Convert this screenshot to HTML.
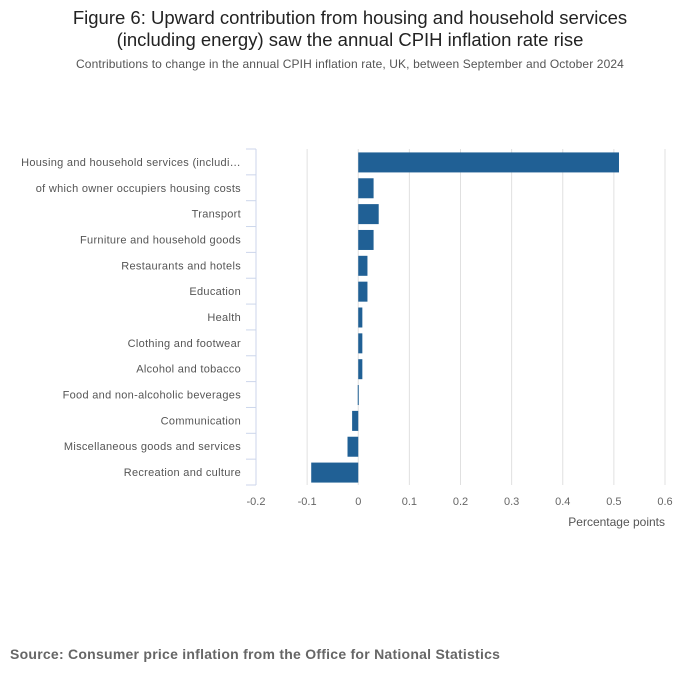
<!DOCTYPE html>
<html><head><meta charset="utf-8"><style>
body{margin:0;background:#fff;font-family:"Liberation Sans",sans-serif;}
#wrap{position:relative;width:700px;height:682px;overflow:hidden;}
.title{position:absolute;left:0;width:700px;top:7px;text-align:center;font-size:18.5px;color:#222;line-height:22px;}
.sub{position:absolute;left:0;width:700px;top:57px;text-align:center;font-size:12px;color:#555;letter-spacing:0.12px;}
.src{position:absolute;left:10px;top:646px;font-size:14px;font-weight:bold;color:#666;letter-spacing:0.25px;}
</style></head><body>
<div id="wrap">
<div class="title">Figure 6: Upward contribution from housing and household services<br>(including energy) saw the annual CPIH inflation rate rise</div>
<div class="sub">Contributions to change in the annual CPIH inflation rate, UK, between September and October 2024</div>
<svg id="chart" width="700" height="682" style="position:absolute;left:0;top:0"></svg>
<div class="src">Source: Consumer price inflation from the Office for National Statistics</div>
</div>
<script>
const categories=["Housing and household services (includi…","of which owner occupiers housing costs","Transport","Furniture and household goods","Restaurants and hotels","Education","Health","Clothing and footwear","Alcohol and tobacco","Food and non-alcoholic beverages","Communication","Miscellaneous goods and services","Recreation and culture"];
const values=[0.51,0.03,0.04,0.03,0.018,0.018,0.008,0.008,0.008,-0.001,-0.012,-0.021,-0.092];
const ticks=[-0.2,-0.1,0,0.1,0.2,0.3,0.4,0.5,0.6];
const tickLabels=["-0.2","-0.1","0","0.1","0.2","0.3","0.4","0.5","0.6"];
const NS="http://www.w3.org/2000/svg";
const svg=document.getElementById('chart');
const x0=256,x1=665,vmin=-0.2,vmax=0.6,top0=149,bot=485;
const xs=v=>x0+(v-vmin)/(vmax-vmin)*(x1-x0);
const band=(bot-top0)/categories.length;
function mk(t,a){const e=document.createElementNS(NS,t);for(const k in a)e.setAttribute(k,a[k]);svg.appendChild(e);return e;}
ticks.forEach((t,i)=>{
 if(i>0){const g=mk('line',{x1:xs(t),x2:xs(t),y1:top0,y2:bot,stroke:'#e0e0e0','stroke-width':1});
 
 }
 const l=mk('text',{x:xs(t),y:505,'text-anchor':'middle','font-size':11,fill:'#666','font-family':'Liberation Sans'});
 l.textContent=tickLabels[i];
 
 
});
const ax=mk('line',{x1:x0,x2:x0,y1:top0,y2:bot,stroke:'#ccd6eb','stroke-width':1});


for(let i=0;i<=categories.length;i++){
 const y=top0+i*band;
 const tk=mk('line',{x1:x0-10,x2:x0,y1:y,y2:y,stroke:'#ccd6eb','stroke-width':1});
 
 
}
categories.forEach((c,i)=>{
 const yc=top0+(i+0.5)*band;
 const t=mk('text',{x:241,y:yc+4,'text-anchor':'end','font-size':11,fill:'#555','font-family':'Liberation Sans','letter-spacing':'0.3'});
 t.textContent=c;
 
 
 const v=values[i];
 const xa=Math.min(xs(0),xs(v)),w=Math.max(1,Math.abs(xs(v)-xs(0)));
 const r=mk('rect',{x:xa,y:yc-9.5,width:w,height:20,fill:'#206095'});
 
 
});
const at=mk('text',{x:665,y:526,'text-anchor':'end','font-size':12,fill:'#555','font-family':'Liberation Sans'});
at.textContent='Percentage points';


</script>
</body></html>
